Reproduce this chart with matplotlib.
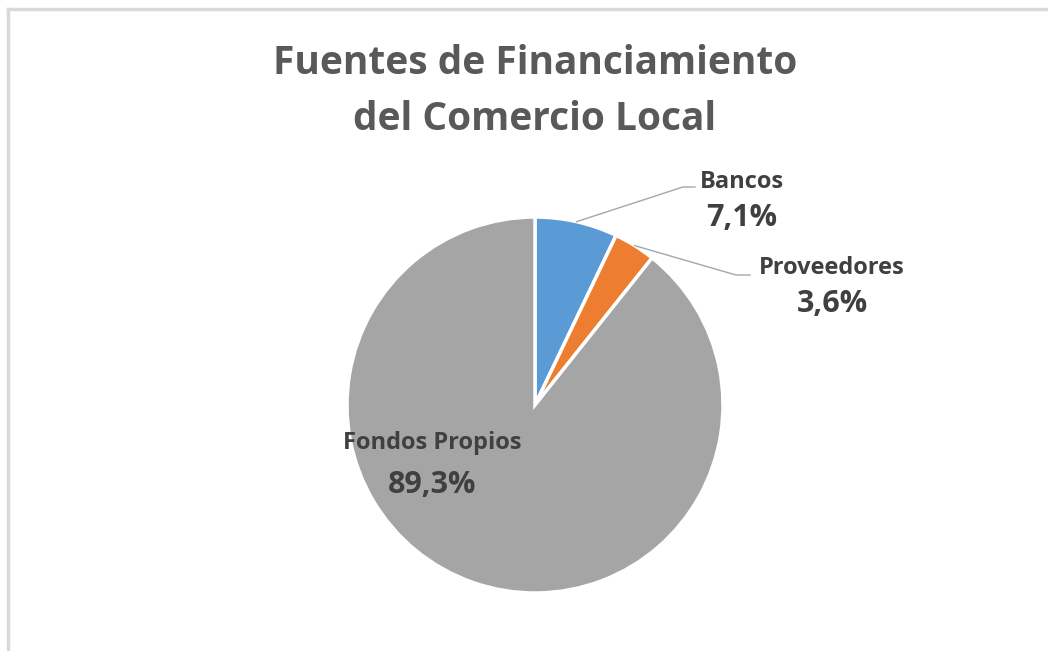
import numpy as np
import matplotlib.pyplot as plt
from matplotlib.lines import Line2D

### Data
labels = ['Bancos', 'Proveedores', 'Fondos Propios']
values = [7.1, 3.6, 89.3]
pct_text = ['7,1%', '3,6%', '89,3%']
colors = ['#5B9BD5', '#ED7D31', '#A5A5A5']

W, H = 1048, 651
fig = plt.figure(figsize=(W / 100, H / 100), dpi=100)
ax = fig.add_axes([0, 0, 1, 1])

cx, cy, r = 535, H - 405, 188
wedges, _ = ax.pie(values, colors=colors, startangle=90, counterclock=False,
                   center=(cx, cy), radius=r,
                   wedgeprops=dict(edgecolor='white', linewidth=2.5))
ax.set_xlim(0, W)
ax.set_ylim(0, H)
ax.set_aspect('equal')
ax.axis('off')

### chart frame (left and top edges visible)
fig.add_artist(Line2D([8 / W, 8 / W], [0, 1 - 9 / H], color='#D9D9D9', lw=2.5))
fig.add_artist(Line2D([8 / W, 1], [1 - 9 / H, 1 - 9 / H], color='#D9D9D9', lw=2.5))

### Title
title_font = 'Open Sans'
ax.text(535, H - 64, 'Fuentes de Financiamiento', ha='center', va='center',
        fontsize=28, fontweight='bold', color='#595959', family=title_font)
ax.text(535, H - 120, 'del Comercio Local', ha='center', va='center',
        fontsize=28, fontweight='bold', color='#595959', family=title_font)

### Labels
label_pos = [(742, 182), (832, 268), (432, 443)]
pct_gap = [36, 36, 42]
elbows = [(683, 187), (736, 275), None]
ends = [(695, 187), (750, 275), None]
for i, w in enumerate(wedges):
    lx, ly = label_pos[i]
    ax.text(lx, H - ly, labels[i], ha='center', va='center', fontsize=17,
            fontweight='bold', color='#404040', family=title_font)
    ax.text(lx, H - ly - pct_gap[i], pct_text[i], ha='center', va='center', fontsize=22,
            fontweight='bold', color='#404040', family=title_font)
    if elbows[i] is not None:
        mid = np.deg2rad((w.theta1 + w.theta2) / 2)
        sx, sy = cx + r * np.cos(mid), cy + r * np.sin(mid)
        ex, ey = elbows[i]
        fx, fy = ends[i]
        ax.plot([sx, ex, fx], [sy, H - ey, H - fy], color='#A6A6A6', lw=1)

fig.savefig('out.png', dpi=100, facecolor='white')
